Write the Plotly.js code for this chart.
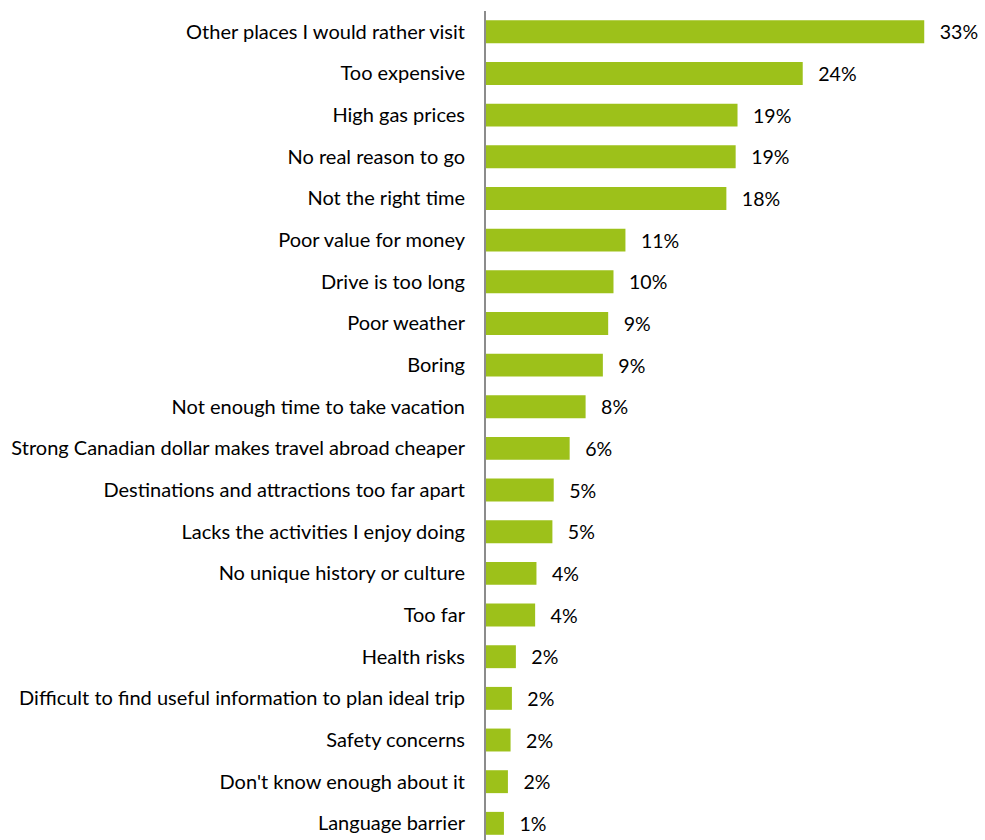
<!DOCTYPE html>
<html><head><meta charset="utf-8">
<script src="https://cdn.plot.ly/plotly-3.0.1.min.js"></script>
<style>body{margin:0;background:#fff}#chart{width:985px;height:840px}</style>
</head><body><div id="chart"></div>
<script>
const categories = [
  "Other places I would rather visit","Too expensive","High gas prices","No real reason to go",
  "Not the right time","Poor value for money","Drive is too long","Poor weather","Boring",
  "Not enough time to take vacation","Strong Canadian dollar makes travel abroad cheaper",
  "Destinations and attractions too far apart","Lacks the activities I enjoy doing",
  "No unique history or culture","Too far","Health risks",
  "Difficult to find useful information to plan ideal trip","Safety concerns",
  "Don't know enough about it","Language barrier"
];
const values = [33, 23.85, 18.94, 18.8, 18.1, 10.5, 9.6, 9.2, 8.8, 7.5, 6.3, 5.1, 5.0, 3.8, 3.7, 2.25, 1.95, 1.85, 1.65, 1.35];
const valueLabels = ["33%","24%","19%","19%","18%","11%","10%","9%","9%","8%","6%","5%","5%","4%","4%","2%","2%","2%","2%","1%"];

const cats = categories.slice().reverse();
const vals = values.slice().reverse();
const labs = valueLabels.slice().reverse().map(s => "\u00a0\u00a0\u2009" + s);

Plotly.newPlot("chart", [{
  type: "bar", orientation: "h",
  x: vals, y: cats,
  marker: {color: "#9dc11a"},
  text: labs, textposition: "outside", cliponaxis: false,
  textfont: {family: "Lato, 'Open Sans', sans-serif", size: 20.5, color: "#000"},
  hoverinfo: "none"
}], {
  width: 985, height: 840,
  margin: {l: 486, r: 1, t: 11, b: 0},
  paper_bgcolor: "#fff", plot_bgcolor: "#fff",
  bargap: 0.45,
  showlegend: false,
  font: {family: "Lato, 'Open Sans', sans-serif", size: 20, color: "#000"},
  xaxis: {range: [0, 37.5], visible: false, fixedrange: true},
  yaxis: {
    type: "category", range: [-0.4, 19.5],
    showline: true, linecolor: "#8c8c8c", linewidth: 2,
    showgrid: false, zeroline: false, ticks: "", ticklabelstandoff: 15,
    tickfont: {family: "Lato, 'Open Sans', sans-serif", size: 20, color: "#000"},
    automargin: false, fixedrange: true
  }
}, {displayModeBar: false, staticPlot: true});
</script></body></html>
